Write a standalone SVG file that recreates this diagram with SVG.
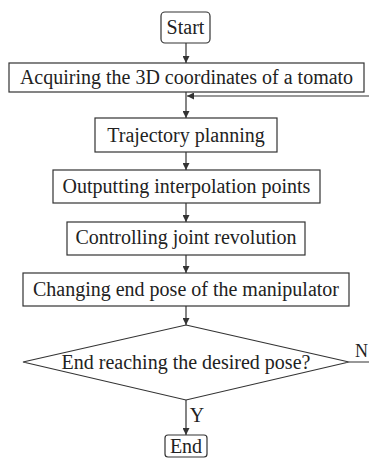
<svg xmlns="http://www.w3.org/2000/svg" width="369" height="459" viewBox="0 0 369 459">
<style>
.b{fill:#fff;stroke:#333;stroke-width:1.2}
.t{font-family:"Liberation Serif","Times New Roman",serif;font-size:20px;fill:#222;text-anchor:middle}
.c{fill:none;stroke:#333;stroke-width:1.2}
</style>
<defs>
<marker id="a" viewBox="0 0 10 10" refX="10" refY="5" markerWidth="7" markerHeight="7" markerUnits="userSpaceOnUse" orient="auto">
<path d="M0,0 L10,5 L0,10 z" fill="#333"/>
</marker>
</defs>
<rect width="369" height="459" fill="#fff"/>
<g id="connectors">
<line class="c" x1="186" y1="43" x2="186" y2="63" marker-end="url(#a)"/>
<line class="c" x1="186" y1="92" x2="186" y2="118" marker-end="url(#a)"/>
<line class="c" x1="186" y1="152" x2="186" y2="170" marker-end="url(#a)"/>
<line class="c" x1="186" y1="203" x2="186" y2="222" marker-end="url(#a)"/>
<line class="c" x1="186" y1="255" x2="186" y2="273" marker-end="url(#a)"/>
<line class="c" x1="186" y1="306" x2="186" y2="325" marker-end="url(#a)"/>
<line class="c" x1="186" y1="400" x2="186" y2="435" marker-end="url(#a)"/>
<polyline class="c" points="349,362 370.5,362 370.5,96 187,96" marker-end="url(#a)"/>
<text class="t" x="197" y="422">Y</text>
<text class="t" x="355" y="357" style="text-anchor:start;font-size:18px">N</text>
</g>
<g id="start">
<rect class="b" x="161" y="12" width="49" height="31" rx="4"/>
<text class="t" x="185.5" y="34">Start</text>
</g>
<g id="acquire">
<rect class="b" x="9" y="63" width="355" height="29"/>
<text class="t" x="186.5" y="84">Acquiring the 3D coordinates of a tomato</text>
</g>
<g id="trajectory">
<rect class="b" x="95" y="118" width="182" height="34"/>
<text class="t" x="186" y="142">Trajectory planning</text>
</g>
<g id="output">
<rect class="b" x="53" y="170" width="267" height="33"/>
<text class="t" x="186.5" y="193">Outputting interpolation points</text>
</g>
<g id="control">
<rect class="b" x="67" y="222" width="238" height="33"/>
<text class="t" x="186" y="244">Controlling joint revolution</text>
</g>
<g id="change">
<rect class="b" x="23" y="273" width="326" height="33"/>
<text class="t" x="186" y="296">Changing end pose of the manipulator</text>
</g>
<g id="decision">
<polygon class="b" points="186,325 349,362 186,400 23,362"/>
<text class="t" x="186" y="369">End reaching the desired pose?</text>
</g>
<g id="end">
<rect class="b" x="165" y="435" width="42" height="22" rx="3"/>
<text class="t" x="186" y="453">End</text>
</g>
</svg>
